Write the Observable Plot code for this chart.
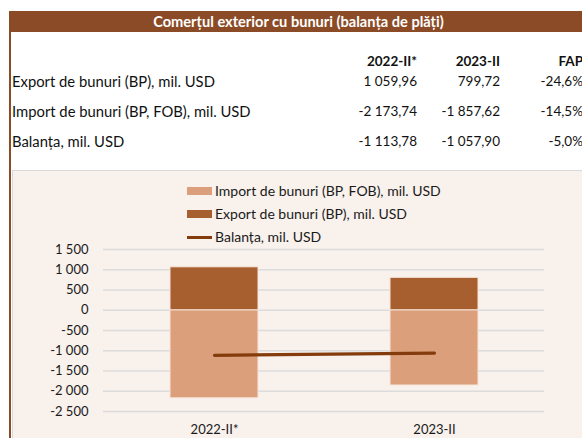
<!DOCTYPE html>
<html>
<head>
<meta charset="utf-8">
<script src="https://cdn.jsdelivr.net/npm/d3@7"></script>
<script src="https://cdn.jsdelivr.net/npm/@observablehq/plot@0.6"></script>
<style>
  html, body { margin: 0; padding: 0; }
  body { width: 582px; height: 438px; overflow: hidden; position: relative; background: #fff; font-family: Lato, "Noto Sans", sans-serif; color: #111; }
  .abs { position: absolute; white-space: nowrap; }
  #titlebar { left: 9px; top: 11px; width: 573px; height: 21px; background: #8B4B26; color: #fff; font-weight: bold; font-size: 14.6px; line-height: 21px; text-align: center; padding-left: 6px; box-sizing: border-box; }
  #leftborder { left: 9px; top: 32px; width: 2px; height: 406px; background: #8B4B26; }
  .cell { font-size: 13.5px; line-height: 16px; }
  .lab { font-size: 14.8px; line-height: 16px; }
  .hdr { font-weight: bold; }
  #panel { left: 12px; top: 170px; width: 580px; height: 280px; background: #F8F1EC; border: 1px solid #D9D9D9; box-sizing: border-box; }
  #chart { left: 12px; top: 171px; }
  .leg { font-size: 14px; line-height: 16px; color: #1a1a1a; }
  .sw { position: absolute; }
</style>
</head>
<body>
<script>
// ---- data ----
const title = "Comerțul exterior cu bunuri (balanța de plăți)";
const periods = ["2022-II*", "2023-II"];
const columnHeaders = ["2022-II*", "2023-II", "FAP"];
const rowLabels = ["Export de bunuri (BP), mil. USD", "Import de bunuri (BP, FOB), mil. USD", "Balanța, mil. USD"];
const exportValues = [1059.96, 799.72];
const importValues = [-2173.74, -1857.62];
const balanceValues = [-1113.78, -1057.90];
const fapValues = ["-24,6%", "-14,5%", "-5,0%"];
const seriesNames = ["Import de bunuri (BP, FOB), mil. USD", "Export de bunuri (BP), mil. USD", "Balanța, mil. USD"];
const yTicks = [1500, 1000, 500, 0, -500, -1000, -1500, -2000, -2500];

const colors = {imp: "#DBA07B", exp: "#A85F2F", bal: "#843C0C"};

// number formatting (Romanian style)
const fmt2 = v => {
  const s = d3.format(",.2f")(Math.abs(v)).replace(/,/g, " ").replace(".", ",");
  return (v < 0 ? "-" : "") + s;
};
const fmtTick = v => {
  const s = d3.format(",")(Math.abs(v)).replace(/,/g, " ");
  return (v < 0 ? "-" : "") + s;
};

function addDiv(cls, style, text) {
  const d = document.createElement("div");
  d.className = "abs " + cls;
  Object.assign(d.style, style);
  if (text != null) d.textContent = text;
  document.body.appendChild(d);
  return d;
}

// ---- header / table ----
addDiv("", {}, title).id = "titlebar";
addDiv("", {}).id = "leftborder";

const colRights = [582 - 417, 582 - 500, -1];
const rowTops = [53, 73, 103, 133];
columnHeaders.forEach((h, i) => addDiv("cell hdr", {right: colRights[i] + "px", top: rowTops[0] + "px"}, h));
const tableValues = [exportValues, importValues, balanceValues];
rowLabels.forEach((lab, r) => {
  addDiv("lab", {left: "12px", top: rowTops[r + 1] + "px"}, lab);
  tableValues[r].forEach((v, c) => addDiv("cell", {right: colRights[c] + "px", top: rowTops[r + 1] + "px"}, fmt2(v)));
  addDiv("cell", {right: colRights[2] + "px", top: rowTops[r + 1] + "px"}, fapValues[r]);
});

// ---- chart panel ----
addDiv("", {}).id = "panel";

// legend
const legTops = [183, 206, 229];
const legKinds = ["imp", "exp", "bal"];
seriesNames.forEach((name, i) => {
  const sw = document.createElement("div");
  sw.className = "sw";
  if (legKinds[i] === "bal") {
    Object.assign(sw.style, {left: "187px", top: (legTops[i] + 7) + "px", width: "25px", height: "3px", background: colors.bal});
  } else {
    Object.assign(sw.style, {left: "187px", top: (legTops[i] + 4) + "px", width: "25px", height: "8px", background: colors[legKinds[i]]});
  }
  document.body.appendChild(sw);
  addDiv("leg", {left: "215px", top: legTops[i] + "px"}, name);
});

// ---- Plot ----
const barData = [];
periods.forEach((p, i) => {
  barData.push({period: p, series: "imp", value: importValues[i]});
  barData.push({period: p, series: "exp", value: exportValues[i]});
});
const lineData = periods.map((p, i) => ({period: p, value: balanceValues[i]}));

const chart = Plot.plot({
  width: 570,
  height: 267,
  marginLeft: 91,
  marginRight: 38,
  marginTop: 78,
  marginBottom: 27,
  style: {background: "transparent", fontFamily: "Lato, 'Noto Sans', sans-serif", fontSize: "13px", color: "#1a1a1a"},
  x: {domain: periods, paddingInner: 0.6, paddingOuter: 0.3, label: null, tickSize: 0, tickPadding: 13},
  y: {domain: [-2500, 1500], ticks: yTicks, tickFormat: fmtTick, label: null, tickSize: 0, tickPadding: 15},
  color: {domain: ["imp", "exp"], range: [colors.imp, colors.exp]},
  marks: [
    Plot.ruleY(yTicks, {stroke: "#DCDCDC", strokeWidth: 1.5}),
    Plot.barY(barData, {x: "period", y: "value", fill: "series", stroke: "#F7E4D7", strokeWidth: 1, inset: 0}),
    Plot.lineY(lineData, {x: "period", y: "value", stroke: colors.bal, strokeWidth: 3.2})
  ]
});
chart.classList.add("abs");
chart.id = "chart";
document.body.appendChild(chart);
</script>
</body>
</html>
